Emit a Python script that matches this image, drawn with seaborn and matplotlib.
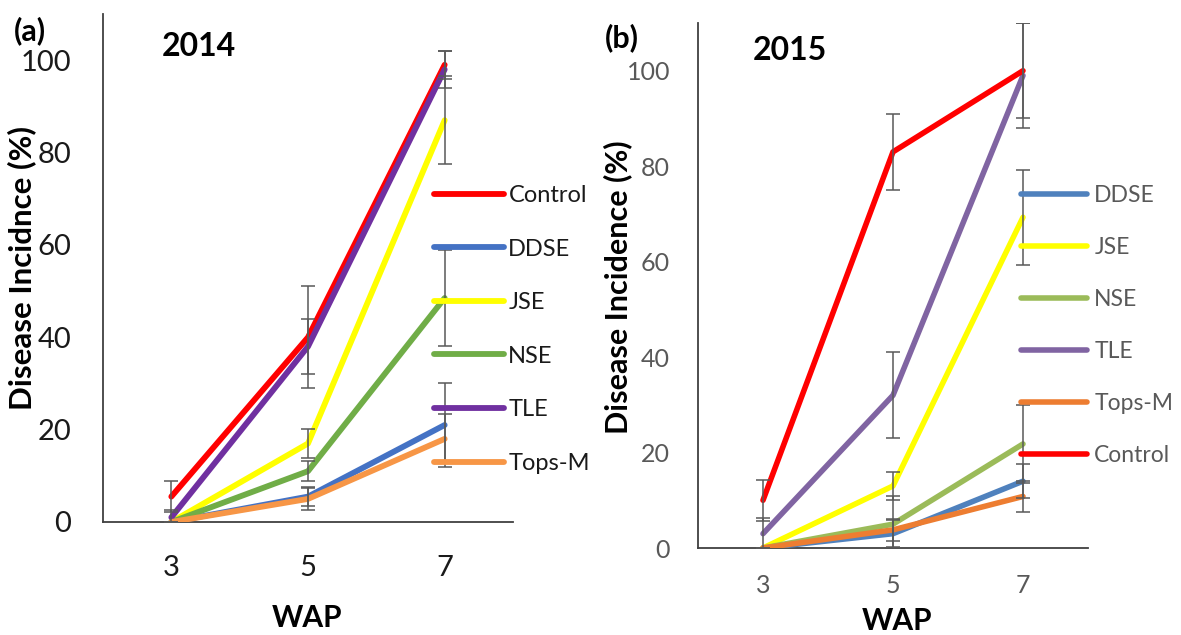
import matplotlib
matplotlib.use("Agg")
import matplotlib.pyplot as plt
import seaborn as sns
import pandas as pd
from matplotlib.lines import Line2D

# ---------------- data ----------------
wap = [3, 5, 7]

# 2014 (panel a)
a_order = ["Control", "DDSE", "JSE", "NSE", "TLE", "Tops-M"]
a_control = [5.5, 40, 99]
a_ddse = [0, 5.5, 21]
a_jse = [0, 17, 87]
a_nse = [0, 11, 48.5]
a_tle = [1, 38, 98]
a_topsm = [0, 5, 18]
a_control_err = [3.3, 11, 3]
a_ddse_err = [0, 2, 9]
a_jse_err = [0, 3.2, 9.5]
a_nse_err = [0, 2.2, 10.3]
a_tle_err = [1.5, 6, 4]
a_topsm_err = [0, 2.4, 5.3]

# 2015 (panel b)
b_order = ["DDSE", "JSE", "NSE", "TLE", "Tops-M", "Control"]
b_ddse = [0, 3, 14]
b_jse = [0, 13, 69.3]
b_nse = [0, 5, 21.8]
b_tle = [3, 32, 99]
b_topsm = [0, 3.8, 10.8]
b_control = [10, 83, 100]
b_ddse_err = [0, 2.8, 3.5]
b_jse_err = [0, 3, 10]
b_nse_err = [0, 6, 8.2]
b_tle_err = [3.3, 9, 11]
b_topsm_err = [0, 2.3, 3.2]
b_control_err = [4.3, 8, 10]

a_colors = {"Control": "#FF0000", "DDSE": "#4472C4", "JSE": "#FFFF00",
            "NSE": "#70AD47", "TLE": "#7030A0", "Tops-M": "#F79646"}
b_colors = {"DDSE": "#4F81BD", "JSE": "#FFFF00", "NSE": "#9BBB59",
            "TLE": "#8064A2", "Tops-M": "#ED7D31", "Control": "#FF0000"}

a_vals = {"Control": a_control, "DDSE": a_ddse, "JSE": a_jse,
          "NSE": a_nse, "TLE": a_tle, "Tops-M": a_topsm}
a_errs = {"Control": a_control_err, "DDSE": a_ddse_err, "JSE": a_jse_err,
          "NSE": a_nse_err, "TLE": a_tle_err, "Tops-M": a_topsm_err}
b_vals = {"DDSE": b_ddse, "JSE": b_jse, "NSE": b_nse,
          "TLE": b_tle, "Tops-M": b_topsm, "Control": b_control}
b_errs = {"DDSE": b_ddse_err, "JSE": b_jse_err, "NSE": b_nse_err,
          "TLE": b_tle_err, "Tops-M": b_topsm_err, "Control": b_control_err}


def long_df(vals, errs, order):
    rows = []
    for t in order:
        for x, y, e in zip(wap, vals[t], errs[t]):
            rows.append({"WAP": x, "DI": y, "err": e, "Treatment": t})
    return pd.DataFrame(rows)


sns.set_style("white")
plt.rcParams["font.family"] = ["Lato", "DejaVu Sans"]

W, H = 1181, 635
fig = plt.figure(figsize=(W / 100, H / 100), dpi=100)


def fx(px):
    return px / W


def fy(py):
    return 1 - py / H


def panel(rect, df, order, colors, tick_color, tick_size, pad_y, pad_x,
          leg_xy, leg_fs, leg_hl, leg_htp, leg_ls, leg_color, lw):
    ax = fig.add_axes(rect)
    sns.lineplot(data=df, x="WAP", y="DI", hue="Treatment", hue_order=order,
                 palette=colors, linewidth=lw, errorbar=None, legend=False,
                 ax=ax, zorder=3)
    for ln in ax.lines:
        ln.set_solid_joinstyle("round")
        ln.set_solid_capstyle("round")
    for t in order:
        d = df[df["Treatment"] == t]
        ax.errorbar(d["WAP"], d["DI"], yerr=d["err"], fmt="none",
                    ecolor="#595959", elinewidth=1.1, capsize=4.8,
                    capthick=1.1, zorder=4)
    ax.set_xlim(2, 8)
    ax.set_ylim(0, 110)
    ax.set_xticks(wap)
    ax.set_yticks([0, 20, 40, 60, 80, 100])
    ax.set_xlabel("")
    ax.set_ylabel("")
    for s in ["top", "right"]:
        ax.spines[s].set_visible(False)
    for s in ["left", "bottom"]:
        ax.spines[s].set_color("#404040")
        ax.spines[s].set_linewidth(1.3)
    ax.tick_params(axis="both", length=0, colors=tick_color,
                   labelsize=tick_size)
    ax.tick_params(axis="y", pad=pad_y)
    ax.tick_params(axis="x", pad=pad_x)
    handles = [Line2D([0], [0], color=colors[t], lw=lw,
                      solid_capstyle="round") for t in order]
    leg = ax.legend(handles, order, loc="upper left",
                    bbox_to_anchor=leg_xy, bbox_transform=fig.transFigure,
                    frameon=False, fontsize=leg_fs, handlelength=leg_hl,
                    handletextpad=leg_htp, labelspacing=leg_ls,
                    borderpad=0, borderaxespad=0)
    for txt in leg.get_texts():
        txt.set_color(leg_color)
    return ax


df_a = long_df(a_vals, a_errs, a_order)
df_b = long_df(b_vals, b_errs, b_order)

ax_a = panel([fx(103), fy(522), fx(513) - fx(103), fy(14) - fy(522)],
             df_a, a_order, a_colors, "#1a1a1a", 21, 23, 24,
             (fx(434), fy(185)), 17, 2.95, 0.2, 1.38, "#1a1a1a", 4.2)
ax_b = panel([fx(698), fy(548), fx(1088) - fx(698), fy(23) - fy(548)],
             df_b, b_order, b_colors, "#595959", 18, 20, 19,
             (fx(1021), fy(185)), 16.5, 2.9, 0.3, 1.35, "#595959", 4.0)

# panel labels, titles and axis titles
fig.text(fx(30), fy(31), "(a)", fontsize=22, fontweight="bold",
         ha="center", va="center", color="black")
fig.text(fx(199), fy(46), "2014", fontsize=23, fontweight="bold",
         ha="center", va="center", color="black")
fig.text(fx(622), fy(38), "(b)", fontsize=22, fontweight="bold",
         ha="center", va="center", color="black")
fig.text(fx(790), fy(51), "2015", fontsize=23, fontweight="bold",
         ha="center", va="center", color="black")

fig.text(fx(22), fy(268), "Disease Incidnce (%)", fontsize=22.5,
         fontweight="bold", rotation=90, ha="center", va="center",
         color="black")
fig.text(fx(618), fy(287), "Disease Incidence (%)", fontsize=22,
         fontweight="bold", rotation=90, ha="center", va="center",
         color="black")

fig.text(fx(307), fy(618), "WAP", fontsize=21.5, fontweight="bold",
         ha="center", va="center", color="black")
fig.text(fx(897), fy(621), "WAP", fontsize=21.5, fontweight="bold",
         ha="center", va="center", color="black")

fig.savefig("out.png", dpi=100)
